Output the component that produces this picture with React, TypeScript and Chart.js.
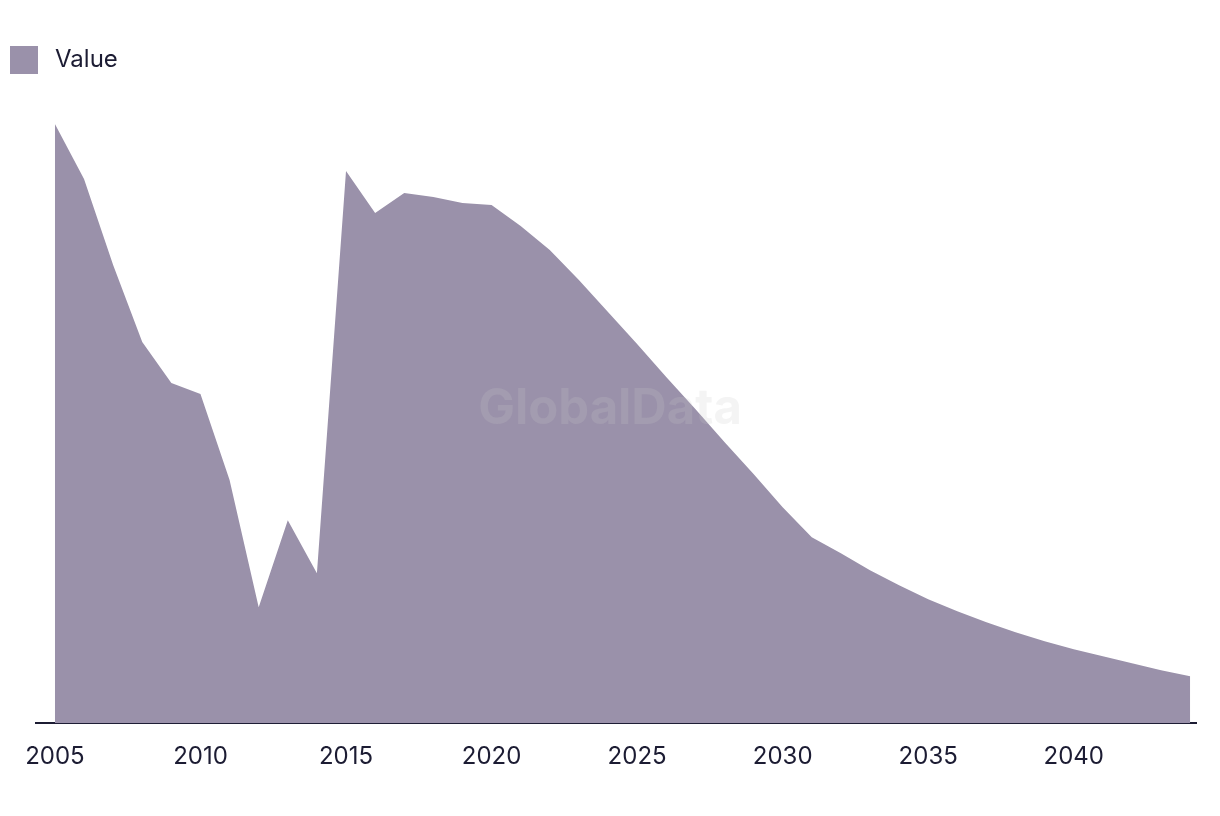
import React, { useEffect, useRef } from "react";
import { Chart, registerables } from "chart.js";

Chart.register(...registerables);

const years: number[] = [
  2005, 2006, 2007, 2008, 2009, 2010, 2011, 2012, 2013, 2014,
  2015, 2016, 2017, 2018, 2019, 2020, 2021, 2022, 2023, 2024,
  2025, 2026, 2027, 2028, 2029, 2030, 2031, 2032, 2033, 2034,
  2035, 2036, 2037, 2038, 2039, 2040, 2041, 2042, 2043, 2044,
];

const values: number[] = [
  599, 544, 458, 381, 340, 329, 243, 116, 203, 150,
  552, 510, 530, 526, 520, 518, 497, 473, 443, 411,
  379, 346, 314, 281, 249, 216, 186, 170, 153, 138,
  124, 112, 101, 91, 82, 74, 67, 60, 53, 47,
];

const tickYears: number[] = [2005, 2010, 2015, 2020, 2025, 2030, 2035, 2040];

const seriesLabel = "Value";
const FILL = "#9a91aa";
const INK = "#1c1c33";
const FONT = "Inter, 'Liberation Sans', sans-serif";

const watermark = {
  id: "watermark",
  afterDatasetsDraw(chart: any) {
    const { ctx } = chart;
    ctx.save();
    ctx.font = `bold 49px ${FONT}`;
    ctx.fillStyle = "rgba(200,200,200,0.2)";
    ctx.textAlign = "center";
    ctx.textBaseline = "middle";
    ctx.fillText("GlobalData", 610, 409);
    ctx.restore();
  },
};

export default function App() {
  const ref = useRef<HTMLCanvasElement | null>(null);

  useEffect(() => {
    if (!ref.current) return;
    const chart = new Chart(ref.current, {
      type: "line",
      data: {
        datasets: [
          {
            label: seriesLabel,
            data: years.map((y, i) => ({ x: y, y: values[i] })),
            fill: "origin",
            backgroundColor: FILL,
            borderColor: FILL,
            borderWidth: 0,
            pointRadius: 0,
            tension: 0,
          },
        ],
      },
      options: {
        animation: false,
        responsive: true,
        maintainAspectRatio: false,
        layout: { padding: { top: 84, left: 36, right: 24, bottom: 26 } },
        plugins: {
          legend: { display: false },
          tooltip: { enabled: false },
        },
        scales: {
          x: {
            type: "linear",
            min: 2004.35,
            max: 2044.2,
            afterBuildTicks: (scale: any) => {
              scale.ticks = tickYears.map((v) => ({ value: v }));
            },
            afterFit: (scale: any) => {
              scale.paddingLeft = 0;
              scale.paddingRight = 0;
            },
            grid: { display: false, drawTicks: false },
            border: { display: true, color: INK, width: 2 },
            ticks: {
              color: INK,
              font: { family: FONT, size: 24 },
              padding: 19,
              maxRotation: 0,
              autoSkip: false,
              callback: (v: any) => String(v),
            },
          },
          y: {
            display: false,
            min: 0,
            max: 639,
          },
        },
      },
      plugins: [watermark],
    });
    return () => chart.destroy();
  }, []);

  return (
    <div style={{ position: "fixed", left: 0, top: 0, width: 1220, height: 816, background: "#fff" }}>
      <div
        style={{
          position: "absolute",
          left: 10,
          top: 46,
          width: 28,
          height: 28,
          background: FILL,
        }}
      />
      <div
        style={{
          position: "absolute",
          left: 55,
          top: 44,
          height: 30,
          lineHeight: "30px",
          fontFamily: FONT,
          fontSize: 24,
          color: INK,
        }}
      >
        {seriesLabel}
      </div>
      <canvas ref={ref} />
    </div>
  );
}
